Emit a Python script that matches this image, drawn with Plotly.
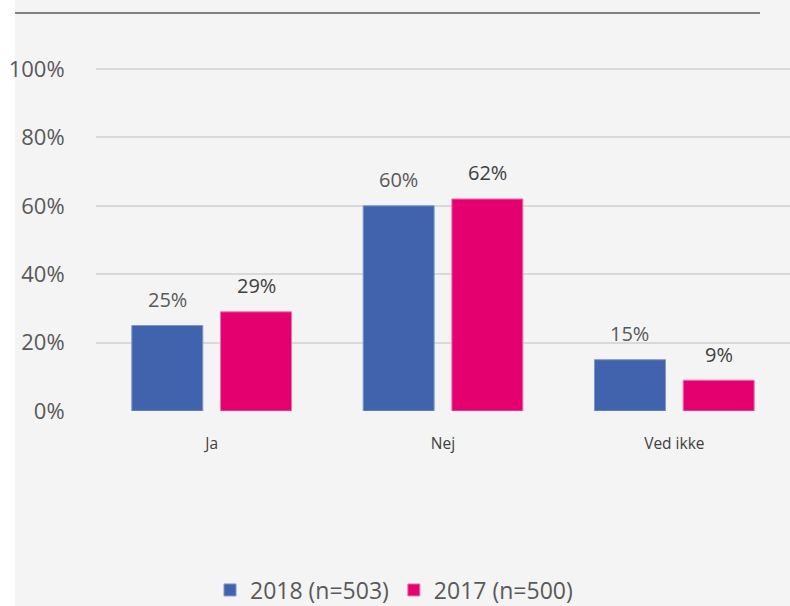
import plotly.graph_objects as go

categories = ["Ja", "Nej", "Ved ikke"]
values_2018 = [0.25, 0.60, 0.15]
values_2017 = [0.29, 0.62, 0.09]
series_names = ["2018 (n=503)", "2017 (n=500)"]
y_ticks = [0, 0.2, 0.4, 0.6, 0.8, 1.0]
y_tick_labels = ["0%", "20%", "40%", "60%", "80%", "100%"]

W, H = 790, 606
YMAX = 1.003
L, R, T, B = 96, 0, 68, 195
pw, ph = W - L - R, H - T - B
BARGAP, GROUPGAP = 0.233, 0.2

def px_x(x):
    return (x - L) / pw

def px_y(y):
    return (H - B - y) / ph

fig = go.Figure()
fig.add_trace(go.Bar(
    x=categories, y=values_2018, name=series_names[0],
    marker=dict(color="#4162AC", line=dict(color="#7f96cc", width=1)),
))
fig.add_trace(go.Bar(
    x=categories, y=values_2017, name=series_names[1],
    marker=dict(color="#E5006F", line=dict(color="#f070a8", width=1)),
))

# data labels above each bar (offset from the category centre by half a bar slot)
cat_w = pw / len(categories)
slot = cat_w * (1 - BARGAP) / 2
annotations = []
for vals, shift, col in [(values_2018, -slot / 2, "#595959"), (values_2017, slot / 2, "#404040")]:
    for c, v in zip(categories, vals):
        annotations.append(dict(
            x=c, y=v, xref="x", yref="y", text=f"{round(v*100)}%",
            showarrow=False, xshift=shift, yshift=26, yanchor="middle",
            font=dict(size=20, color=col, family="Open Sans"),
        ))

fig.update_layout(
    width=W, height=H,
    margin=dict(l=L, r=R, t=T, b=B, pad=0, autoexpand=False),
    paper_bgcolor="#f4f4f4", plot_bgcolor="#f4f4f4",
    barmode="group", bargap=BARGAP, bargroupgap=GROUPGAP,
    font=dict(family="Open Sans", color="#595959"),
    showlegend=True,
    legend=dict(orientation="h", x=px_x(394), xanchor="center",
                y=px_y(590), yanchor="middle",
                font=dict(size=23, color="#595959"),
                bgcolor="rgba(0,0,0,0)", itemwidth=30),
    yaxis=dict(range=[0, YMAX], tickvals=y_ticks, ticktext=y_tick_labels,
               showgrid=True, gridcolor="#d9d9d9", gridwidth=1.5,
               zeroline=False, showline=False,
               ticks="outside", ticklen=26, tickcolor="rgba(0,0,0,0)",
               tickfont=dict(size=22, color="#595959")),
    xaxis=dict(showgrid=False, zeroline=False, showline=False,
               ticks="outside", ticklen=18, tickcolor="rgba(0,0,0,0)",
               tickfont=dict(size=15.5, color="#404040")),
    annotations=annotations,
    shapes=[
        dict(type="rect", xref="paper", yref="paper",
             x0=px_x(0), x1=px_x(15), y0=px_y(H), y1=px_y(0),
             fillcolor="white", line=dict(width=0), layer="below"),
        dict(type="line", xref="paper", yref="paper",
             x0=px_x(15), x1=px_x(760), y0=px_y(13), y1=px_y(13),
             line=dict(color="#595959", width=1.5)),
    ],
)

fig.write_html("out.html", config={"displayModeBar": False},
               post_script="document.body.style.margin='0';document.body.style.padding='0';")
